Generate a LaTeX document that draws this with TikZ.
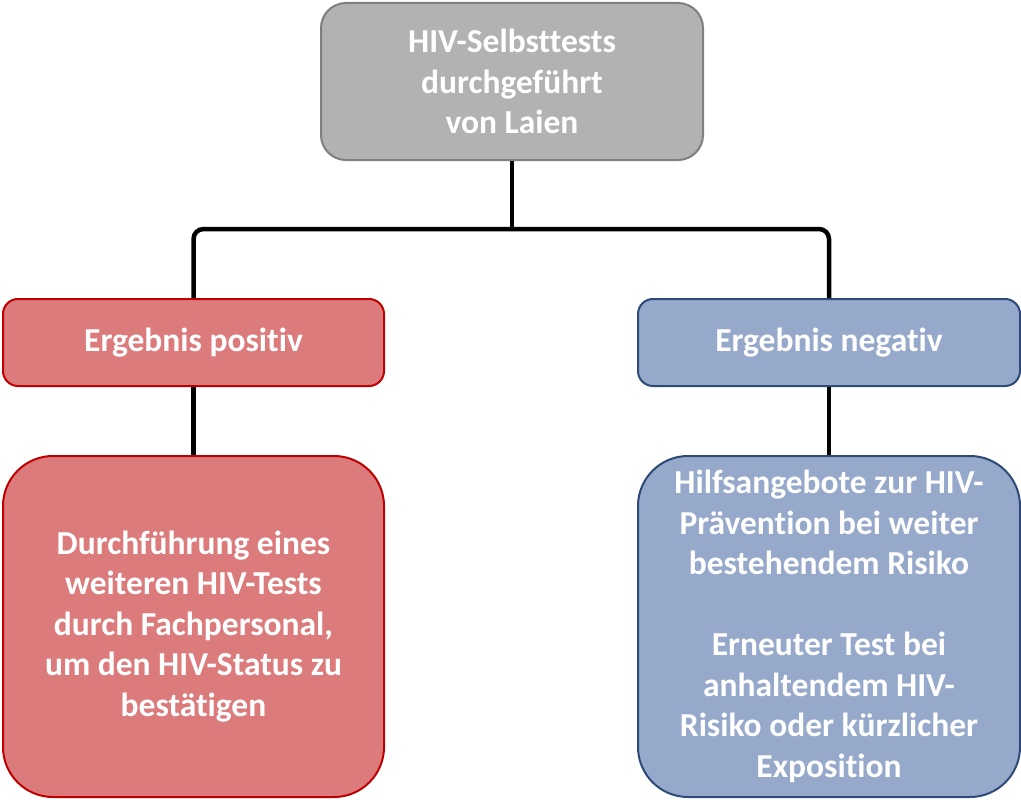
\documentclass[tikz,border=0pt]{standalone}
\usepackage{fontspec}
\setmainfont[Ligatures=NoCommon]{Carlito}
\begin{document}
\begin{tikzpicture}[x=1pt,y=1pt,
  box/.style={draw, line width=2pt, text=white, font=\fontsize{33.5}{40.5}\selectfont\bfseries, align=center, inner sep=0pt, anchor=north west},
  graybox/.style={box, fill=topfill, draw=topline},
  redbox/.style={box, fill=redfill, draw=redline},
  bluebox/.style={box, fill=bluefill, draw=blueline},
  conn/.style={line width=4.5pt, black, line cap=butt}
]
\definecolor{topfill}{HTML}{B3B2B2}
\definecolor{topline}{HTML}{7F7F7F}
\definecolor{redfill}{HTML}{DC7B7C}
\definecolor{redline}{HTML}{C00000}
\definecolor{bluefill}{HTML}{96A9CB}
\definecolor{blueline}{HTML}{2E4A78}
\useasboundingbox (0,0) rectangle (1021,-800);
\node[graybox, rounded corners=25pt, minimum width=382pt, minimum height=157pt] (top) at (320,-2)
  {HIV-Selbsttests\\durchgeführt\\von Laien};
\node[redbox, rounded corners=15pt, minimum width=381pt, minimum height=87pt] (pos) at (2,-298)
  {Ergebnis positiv};
\node[bluebox, rounded corners=15pt, minimum width=382pt, minimum height=87pt] (neg) at (637,-298)
  {Ergebnis negativ};
\node[redbox, rounded corners=50pt, minimum width=381pt, minimum height=341pt] (posd) at (2,-455)
  {Durchführung eines\\weiteren HIV-Tests\\durch Fachpersonal,\\um den HIV-Status zu\\bestätigen};
\node[bluebox, rounded corners=50pt, minimum width=382pt, minimum height=341pt] (negd) at (637,-455)
  {Hilfsangebote zur HIV-\\Prävention bei weiter\\bestehendem Risiko\\[40.5pt]Erneuter Test bei\\anhaltendem HIV-\\Risiko oder kürzlicher\\Exposition};
\coordinate (bar) at (511,-229);
\draw[conn] (top.south) -- (top.south |- bar);
\draw[conn, rounded corners=10pt] (pos.north) -- (pos.north |- bar) -- (neg.north |- bar) -- (neg.north);
\draw[conn] (pos.south) -- (posd.north);
\draw[conn] (neg.south) -- (negd.north);
\end{tikzpicture}
\end{document}
